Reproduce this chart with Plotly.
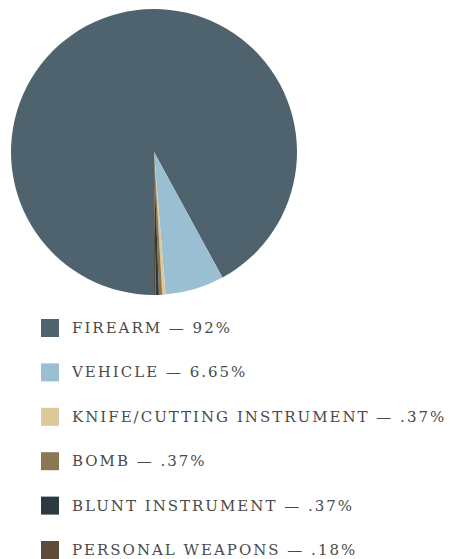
import plotly.graph_objects as go

categories = ["Firearm", "Vehicle", "Knife/Cutting Instrument", "Bomb",
              "Blunt Instrument", "Personal Weapons"]
values = [92, 6.65, 0.37, 0.37, 0.37, 0.18]
pct_labels = ["92%", "6.65%", ".37%", ".37%", ".37%", ".18%"]
colors = ["#4e636d", "#9bbfd2", "#dcc898", "#8a7753", "#2b3a40", "#5e4b39"]

W, H = 450, 559

fig = go.Figure()
fig.add_trace(go.Pie(
    labels=categories,
    values=values,
    marker=dict(colors=colors, line=dict(width=0)),
    sort=False,
    direction="clockwise",
    rotation=180,
    textinfo="none",
    hoverinfo="label+percent",
    showlegend=False,
    domain=dict(x=[11 / W, 297 / W], y=[1 - 295 / H, 1 - 9 / H]),
))

row0 = 328
gap = 44.4
shapes = []
annotations = []
for i, (cat, pct, col) in enumerate(zip(categories, pct_labels, colors)):
    yc = row0 + gap * i
    shapes.append(dict(
        type="rect", xref="paper", yref="paper",
        x0=41 / W, x1=59 / W, y0=1 - (yc + 9) / H, y1=1 - (yc - 9) / H,
        fillcolor=col, line=dict(width=0),
    ))
    annotations.append(dict(
        xref="paper", yref="paper", x=70 / W, y=1 - yc / H,
        xanchor="left", yanchor="middle", showarrow=False,
        text=f"{cat.upper()} \u2014 {pct}",
        font=dict(family="DejaVu Serif", size=15, color="#4a4a4a"),
    ))

fig.update_layout(
    width=W, height=H,
    margin=dict(l=0, r=0, t=0, b=0),
    paper_bgcolor="white",
    plot_bgcolor="white",
    shapes=shapes,
    annotations=annotations,
)

post = """
document.body.style.margin = '0';
document.body.style.overflow = 'hidden';
document.querySelectorAll('.annotation-text').forEach(function (t) {
  var b = t.getBBox();
  t.setAttribute('text-anchor', 'start');
  t.setAttribute('x', b.x);
  t.querySelectorAll('tspan').forEach(function (s) {
    if (s.hasAttribute('x')) { s.setAttribute('x', b.x); }
  });
  t.style.letterSpacing = '2px';
});
"""

fig.write_html("out.html", post_script=post, config={"displayModeBar": False})
